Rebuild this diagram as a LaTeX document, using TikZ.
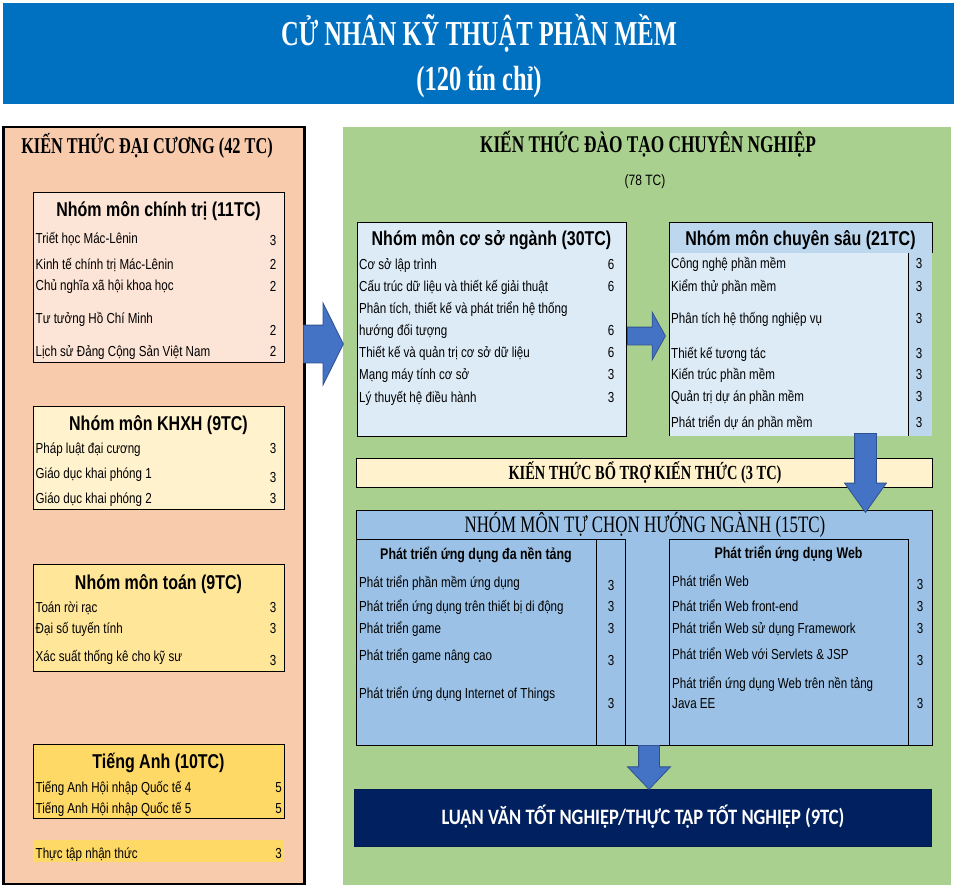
\documentclass[tikz,border=0pt]{standalone}
\usepackage{fontspec}
\setmainfont{Liberation Sans}[FakeStretch=0.8]
\newfontfamily\headfont{Liberation Serif}[FakeStretch=0.72]
\newfontfamily\bannerfont{Liberation Serif}[FakeStretch=0.70]
\newfontfamily\thesisfont{Carlito}[FakeStretch=0.84]
\usetikzlibrary{positioning, shapes.arrows}
\definecolor{BannerBlue}{HTML}{0070C0}
\definecolor{GeneralBg}{HTML}{F8CBAD}
\definecolor{PoliticsBg}{HTML}{FCE4D6}
\definecolor{SocialBg}{HTML}{FFF2CC}
\definecolor{MathBg}{HTML}{FFE699}
\definecolor{EnglishBg}{HTML}{FFD966}
\definecolor{MajorBg}{HTML}{A9D08E}
\definecolor{CoreBlue}{HTML}{DDEBF7}
\definecolor{DeepBlue}{HTML}{BDD7EE}
\definecolor{ElectiveBlue}{HTML}{9BC2E6}
\definecolor{ThesisNavy}{HTML}{002060}
\definecolor{ArrowBlue}{HTML}{4472C4}
\definecolor{ArrowLine}{HTML}{2F528F}

\begin{document}
\begin{tikzpicture}[
        x=1pt, y=-1pt,
        box/.style={rectangle, anchor=north west, inner sep=0pt, outer sep=0pt, draw=black, line width=1pt},
        grouptitle/.style={font=\fontsize{20}{22}\selectfont\bfseries, text height=14.3pt, text depth=0pt, inner sep=0pt},
        subtitle/.style={font=\fontsize{15.5}{17}\selectfont\bfseries, text height=11pt, text depth=0pt, inner sep=0pt},
        course/.style={anchor=west, font=\fontsize{14.5}{16}\selectfont, text height=10.5pt, text depth=0pt, inner sep=0pt},
        credit/.style={font=\fontsize{14.5}{16}\selectfont, text height=10.5pt, text depth=0pt, inner sep=0pt},
        headline/.style={font=\headfont\bfseries\fontsize{22.6}{24}\selectfont, text height=15pt, text depth=0pt, inner sep=0pt},
        bigarrow/.style={single arrow, draw=ArrowLine, fill=ArrowBlue, line width=0.8pt, anchor=tail}
    ]
    \useasboundingbox (0,0) rectangle (956,892);
    \fill[white] (0,0) rectangle (956,892);

    % Banner
    \node (banner) [box, draw=none, fill=BannerBlue, minimum width=951pt, minimum height=101pt] at (3,3) {};
    \node (title1) [font=\bannerfont\bfseries\fontsize{35}{38}\selectfont, text=white, text height=23pt, text depth=0pt, inner sep=0pt] at (479,34) {CỬ NHÂN KỸ THUẬT PHẦN MỀM};
    \node (title2) [font=\bannerfont\bfseries\fontsize{35}{38}\selectfont, text=white, text height=23pt, text depth=0pt, inner sep=0pt] at (479,79) {(120 tín chỉ)};

    % General knowledge
    \node (general) [box, fill=GeneralBg, line width=2.2pt, minimum width=301pt, minimum height=757pt] at (3.5,127) {};
    \node (generalT) [headline] at (147,146) {KIẾN THỨC ĐẠI CƯƠNG (42 TC)};

    \node (politics) [box, fill=PoliticsBg, minimum width=251pt, minimum height=170pt] at (33,192) {};
    \node (politicsT) [grouptitle] at (158.5,209) {Nhóm môn chính trị (11TC)};
    \node (pol1) [course] at (35.5,238) {Triết học Mác-Lênin};
    \node (pol1c) [credit] at (273,240) {3};
    \node (pol2) [course] at (35.5,264) {Kinh tế chính trị Mác-Lênin};
    \node (pol2c) [credit] at (273,264) {2};
    \node (pol3) [course] at (35.5,285) {Chủ nghĩa xã hội khoa học};
    \node (pol3c) [credit] at (273,286) {2};
    \node (pol4) [course] at (35.5,318) {Tư tưởng Hồ Chí Minh};
    \node (pol4c) [credit] at (273,330) {2};
    \node (pol5) [course] at (35.5,351) {Lịch sử Đảng Cộng Sản Việt Nam};
    \node (pol5c) [credit] at (273,351) {2};

    \node (social) [box, fill=SocialBg, minimum width=251pt, minimum height=103pt] at (33,406) {};
    \node (socialT) [grouptitle] at (158.5,423) {Nhóm môn KHXH (9TC)};
    \node (soc1) [course] at (35.5,448) {Pháp luật đại cương};
    \node (soc1c) [credit] at (273,448) {3};
    \node (soc2) [course] at (35.5,473) {Giáo dục khai phóng 1};
    \node (soc2c) [credit] at (273,477) {3};
    \node (soc3) [course] at (35.5,498) {Giáo dục khai phóng 2};
    \node (soc3c) [credit] at (273,498) {3};

    \node (maths) [box, fill=MathBg, minimum width=251pt, minimum height=107pt] at (33,564) {};
    \node (mathsT) [grouptitle] at (158.5,582) {Nhóm môn toán (9TC)};
    \node (mat1) [course] at (35.5,607) {Toán rời rạc};
    \node (mat1c) [credit] at (273,607) {3};
    \node (mat2) [course] at (35.5,628) {Đại số tuyến tính};
    \node (mat2c) [credit] at (273,628) {3};
    \node (mat3) [course] at (35.5,656) {Xác suất thống kê cho kỹ sư};
    \node (mat3c) [credit] at (273,660) {3};

    \node (english) [box, fill=EnglishBg, minimum width=251pt, minimum height=74pt] at (33,744) {};
    \node (englishT) [grouptitle] at (158.5,761) {Tiếng Anh (10TC)};
    \node (eng1) [course] at (35.5,787) {Tiếng Anh Hội nhập Quốc tế 4};
    \node (eng1c) [credit] at (278.5,787) {5};
    \node (eng2) [course] at (35.5,808) {Tiếng Anh Hội nhập Quốc tế 5};
    \node (eng2c) [credit] at (278.5,808) {5};

    \node (intern) [box, draw=none, fill=EnglishBg, minimum width=251pt, minimum height=22pt] at (33,840) {};
    \node (intern1) [course] at (35.5,853) {Thực tập nhận thức};
    \node (intern1c) [credit] at (278.5,853) {3};

    % Professional knowledge
    \node (major) [box, draw=none, fill=MajorBg, minimum width=608pt, minimum height=758pt] at (343,127) {};
    \node (majorT) [headline, font=\headfont\bfseries\fontsize{24}{26}\selectfont, text height=15.9pt] at (648,145) {KIẾN THỨC ĐÀO TẠO CHUYÊN NGHIỆP};
    \node (majorTC) [font=\fontsize{15}{17}\selectfont, text height=10.8pt, text depth=0pt, inner sep=0pt] at (645,180) {(78 TC)};

    \node (core) [box, fill=CoreBlue, minimum width=269pt, minimum height=214pt] at (357,222) {};
    \node (coreT) [grouptitle] at (491.5,238) {Nhóm môn cơ sở ngành (30TC)};
    \node (cor1) [course] at (359,264) {Cơ sở lập trình};
    \node (cor1c) [credit] at (611,264) {6};
    \node (cor2) [course] at (359,286) {Cấu trúc dữ liệu và thiết kế giải thuật};
    \node (cor2c) [credit] at (611,286) {6};
    \node (cor3) [course] at (359,308) {Phân tích, thiết kế và phát triển hệ thống};
    \node (cor3b) [course] at (359,330) {hướng đối tượng};
    \node (cor3c) [credit] at (611,330) {6};
    \node (cor4) [course] at (359,352) {Thiết kế và quản trị cơ sở dữ liệu};
    \node (cor4c) [credit] at (611,352) {6};
    \node (cor5) [course] at (359,374) {Mạng máy tính cơ sở};
    \node (cor5c) [credit] at (611,374) {3};
    \node (cor6) [course] at (359,397) {Lý thuyết hệ điều hành};
    \node (cor6c) [credit] at (611,397) {3};

    \node (deep) [box, draw=none, fill=CoreBlue, minimum width=263pt, minimum height=214pt] at (669,222) {};
    \node (deepHead) [box, draw=none, fill=DeepBlue, minimum width=263pt, minimum height=31pt] at (669,222) {};
    \node (deepCol) [box, draw=none, fill=DeepBlue, minimum width=24pt, minimum height=183pt] at (908,253) {};
    \draw[line width=1pt] (deep.south west) -- (deep.north west) -- (deep.north east) -- (deepHead.south east);
    \draw[line width=1pt] (deepCol.north west) -- (deepCol.south west);
    \node (deepT) [grouptitle] at (800.5,238) {Nhóm môn chuyên sâu (21TC)};
    \node (dep1) [course] at (671,263) {Công nghệ phần mềm};
    \node (dep1c) [credit] at (919,263) {3};
    \node (dep2) [course] at (671,286) {Kiểm thử phần mềm};
    \node (dep2c) [credit] at (919,286) {3};
    \node (dep3) [course] at (671,318) {Phân tích hệ thống nghiệp vụ};
    \node (dep3c) [credit] at (919,318) {3};
    \node (dep4) [course] at (671,353) {Thiết kế tương tác};
    \node (dep4c) [credit] at (919,353) {3};
    \node (dep5) [course] at (671,374) {Kiến trúc phần mềm};
    \node (dep5c) [credit] at (919,374) {3};
    \node (dep6) [course] at (671,396) {Quản trị dự án phần mềm};
    \node (dep6c) [credit] at (919,396) {3};
    \node (dep7) [course] at (671,422) {Phát triển dự án phần mềm};
    \node (dep7c) [credit] at (919,422) {3};

    \node (extra) [box, fill=SocialBg, minimum width=576pt, minimum height=29pt] at (356,458) {};
    \node (extraT) [font=\headfont\bfseries\fontsize{20}{22}\selectfont, text height=13.2pt, text depth=0pt, inner sep=0pt] at (645,472.5) {KIẾN THỨC BỔ TRỢ KIẾN THỨC (3 TC)};

    \node (elective) [box, fill=ElectiveBlue, minimum width=576pt, minimum height=235pt] at (356,510) {};
    \node (electiveT) [font=\headfont\fontsize{23.5}{25}\selectfont, text height=15.5pt, text depth=0pt, inner sep=0pt] at (645,525) {NHÓM MÔN TỰ CHỌN HƯỚNG NGÀNH (15TC)};

    \node (cross) [box, minimum width=269pt, minimum height=206pt] at (356,539) {};
    \draw[line width=1pt] (596,539) -- (596,745);
    \node (crossT) [subtitle] at (476,554) {Phát triển ứng dụng đa nền tảng};
    \node (crs1) [course] at (359,582) {Phát triển phần mềm ứng dụng};
    \node (crs1c) [credit] at (611,585) {3};
    \node (crs2) [course] at (359,606) {Phát triển ứng dụng trên thiết bị di động};
    \node (crs2c) [credit] at (611,606) {3};
    \node (crs3) [course] at (359,628) {Phát triển game};
    \node (crs3c) [credit] at (611,628) {3};
    \node (crs4) [course] at (359,655) {Phát triển game nâng cao};
    \node (crs4c) [credit] at (611,660) {3};
    \node (crs5) [course] at (359,693) {Phát triển ứng dụng Internet of Things};
    \node (crs5c) [credit] at (611,703) {3};

    \node (web) [box, minimum width=239pt, minimum height=206pt] at (669,539) {};
    \node (webT) [subtitle] at (788.5,553) {Phát triển ứng dụng Web};
    \node (web1) [course] at (672,581) {Phát triển Web};
    \node (web1c) [credit] at (920,584) {3};
    \node (web2) [course] at (672,606) {Phát triển Web front-end};
    \node (web2c) [credit] at (920,606) {3};
    \node (web3) [course] at (672,628) {Phát triển Web sử dụng Framework};
    \node (web3c) [credit] at (920,628) {3};
    \node (web4) [course] at (672,654) {Phát triển Web với Servlets \& JSP};
    \node (web4c) [credit] at (920,660) {3};
    \node (web5) [course] at (672,683) {Phát triển ứng dụng Web trên nền tảng};
    \node (web5b) [course] at (672,703) {Java EE};
    \node (web5c) [credit] at (920,703) {3};

    \node (thesis) [box, draw=ThesisNavy!80!black, line width=0.6pt, fill=ThesisNavy, minimum width=577pt, minimum height=57pt] at (354,789) {};
    \node (thesisT) [font=\thesisfont\bfseries\fontsize{22}{24}\selectfont, text=white, text height=14.2pt, text depth=0pt, inner sep=0pt] at (643,817) {LUẬN VĂN TỐT NGHIỆP/THỰC TẬP TỐT NGHIỆP (9TC)};

    % Block arrows
    \node (arr1) [bigarrow, inner xsep=0pt, inner ysep=18.5pt, minimum height=40pt, single arrow head extend=22pt, single arrow tip angle=127] at (303,344) {};
    \node (arr2) [bigarrow, inner xsep=0pt, inner ysep=8.5pt, minimum height=38pt, single arrow head extend=15pt, single arrow tip angle=122] at (627,336) {};
    \node (arr3) [bigarrow, shape border rotate=270, inner sep=10.5pt, minimum height=79pt, single arrow head extend=10pt, single arrow tip angle=71] at (865.5,433) {};
    \node (arr4) [bigarrow, shape border rotate=270, inner sep=10pt, minimum height=44pt, single arrow head extend=11pt, single arrow tip angle=87] at (649,745) {};

\end{tikzpicture}
\end{document}
